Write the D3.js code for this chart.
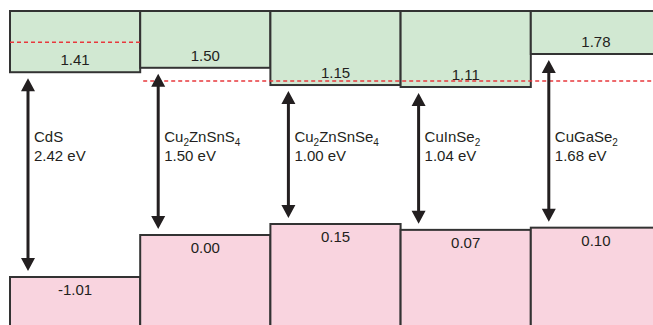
<!DOCTYPE html>
<html>
<head>
<meta charset="utf-8">
<script src="https://cdn.jsdelivr.net/npm/d3@7"></script>
<style>
  body { margin: 0; background: #fff; }
  svg { display: block; font-family: "Liberation Sans", Arial, sans-serif; }
</style>
</head>
<body>
<svg width="653" height="325"></svg>
<script>
const width = 653;
const height = 325;

// band edges (eV) per material
const materials = ['CdS', 'CZTS', 'CZTSe', 'CIS', 'CGS'];
const names = [
    [['CdS', '']],
    [['Cu', ''], ['2', 'sub'], ['ZnSnS', ''], ['4', 'sub']],
    [['Cu', ''], ['2', 'sub'], ['ZnSnSe', ''], ['4', 'sub']],
    [['CuInSe', ''], ['2', 'sub']],
    [['CuGaSe', ''], ['2', 'sub']]
];
const gaps = [2.42, 1.50, 1.00, 1.04, 1.68];
const conduction = [1.41, 1.50, 1.15, 1.11, 1.78];
const valence = [-1.01, 0.00, 0.15, 0.07, 0.10];
// red dashed reference levels (eV)
const refLevels = [2.02, 1.23];

const data = materials.map((m, i) => ({
    key: m, name: names[i], gap: gaps[i], cb: conduction[i], vb: valence[i]
}));

const x = d3.scaleBand()
    .domain(materials)
    .range([10, 661]);

// schematic, not to a single scale: separate scales for the two band edges
const yCB = d3.scaleLinear()
    .domain([1.11, 1.78])
    .range([87, 54]);

const yVB = d3.scaleLinear()
    .domain([-1.01, 0, 0.15])
    .range([277, 235, 224]);

const svg = d3.select('svg');
const boxTop = 11;
const ink = '#231f20';

// conduction band boxes
svg.append('g').selectAll('rect')
    .data(data)
    .join('rect')
    .attr('x', d => x(d.key))
    .attr('y', boxTop)
    .attr('width', x.bandwidth())
    .attr('height', d => yCB(d.cb) - boxTop)
    .attr('fill', '#d1e8d2')
    .attr('stroke', '#333')
    .attr('stroke-width', 2);

// valence band boxes
svg.append('g').selectAll('rect')
    .data(data)
    .join('rect')
    .attr('x', d => x(d.key))
    .attr('y', d => yVB(d.vb))
    .attr('width', x.bandwidth())
    .attr('height', d => height + 10 - yVB(d.vb))
    .attr('fill', '#f9d4df')
    .attr('stroke', '#333')
    .attr('stroke-width', 2);

// dashed reference lines
svg.append('line')
    .attr('x1', x('CdS')).attr('x2', x('CdS') + x.bandwidth())
    .attr('y1', yCB(refLevels[0])).attr('y2', yCB(refLevels[0]))
    .attr('stroke', '#e8383d').attr('stroke-width', 1.5)
    .attr('stroke-dasharray', '4,3');

svg.append('line')
    .attr('x1', x('CZTS') + 3).attr('x2', width)
    .attr('y1', yCB(refLevels[1])).attr('y2', yCB(refLevels[1]))
    .attr('stroke', '#e8383d').attr('stroke-width', 1.5)
    .attr('stroke-dasharray', '4,3');

// value labels
svg.append('g').selectAll('text')
    .data(data)
    .join('text')
    .attr('x', d => x(d.key) + x.bandwidth() / 2)
    .attr('y', d => yCB(d.cb) - 7)
    .attr('text-anchor', 'middle')
    .attr('font-size', 15)
    .attr('fill', ink)
    .text(d => d.cb.toFixed(2));

svg.append('g').selectAll('text')
    .data(data)
    .join('text')
    .attr('x', d => x(d.key) + x.bandwidth() / 2)
    .attr('y', d => yVB(d.vb) + 18)
    .attr('text-anchor', 'middle')
    .attr('font-size', 15)
    .attr('fill', ink)
    .text(d => d.vb.toFixed(2));

// double-headed gap arrows
const arrows = svg.append('g').selectAll('g')
    .data(data)
    .join('g')
    .attr('transform', d => `translate(${x(d.key) + 18},0)`);

arrows.append('line')
    .attr('y1', d => yCB(d.cb) + 14)
    .attr('y2', d => yVB(d.vb) - 14)
    .attr('stroke', ink)
    .attr('stroke-width', 3);

arrows.append('path')
    .attr('d', d => {
        const t = yCB(d.cb) + 6;
        const b = yVB(d.vb) - 6;
        return `M0,${t}L7,${t + 13}L-7,${t + 13}Z M0,${b}L7,${b - 13}L-7,${b - 13}Z`;
    })
    .attr('fill', ink);

// material labels with subscripts
const labels = arrows.append('text')
    .attr('x', 6)
    .attr('y', 142)
    .attr('font-size', 15)
    .attr('fill', ink);

labels.each(function(d) {
    const t = d3.select(this);
    let shifted = false;
    d.name.forEach(([s, kind]) => {
        const sp = t.append('tspan').text(s);
        if (kind === 'sub') {
            sp.attr('font-size', 10).attr('dy', shifted ? 0 : 4);
            shifted = true;
        } else {
            sp.attr('dy', shifted ? -4 : 0);
            shifted = false;
        }
    });
});

arrows.append('text')
    .attr('x', 6)
    .attr('y', 161)
    .attr('font-size', 15)
    .attr('fill', ink)
    .text(d => d.gap.toFixed(2) + ' eV');
</script>
</body>
</html>
